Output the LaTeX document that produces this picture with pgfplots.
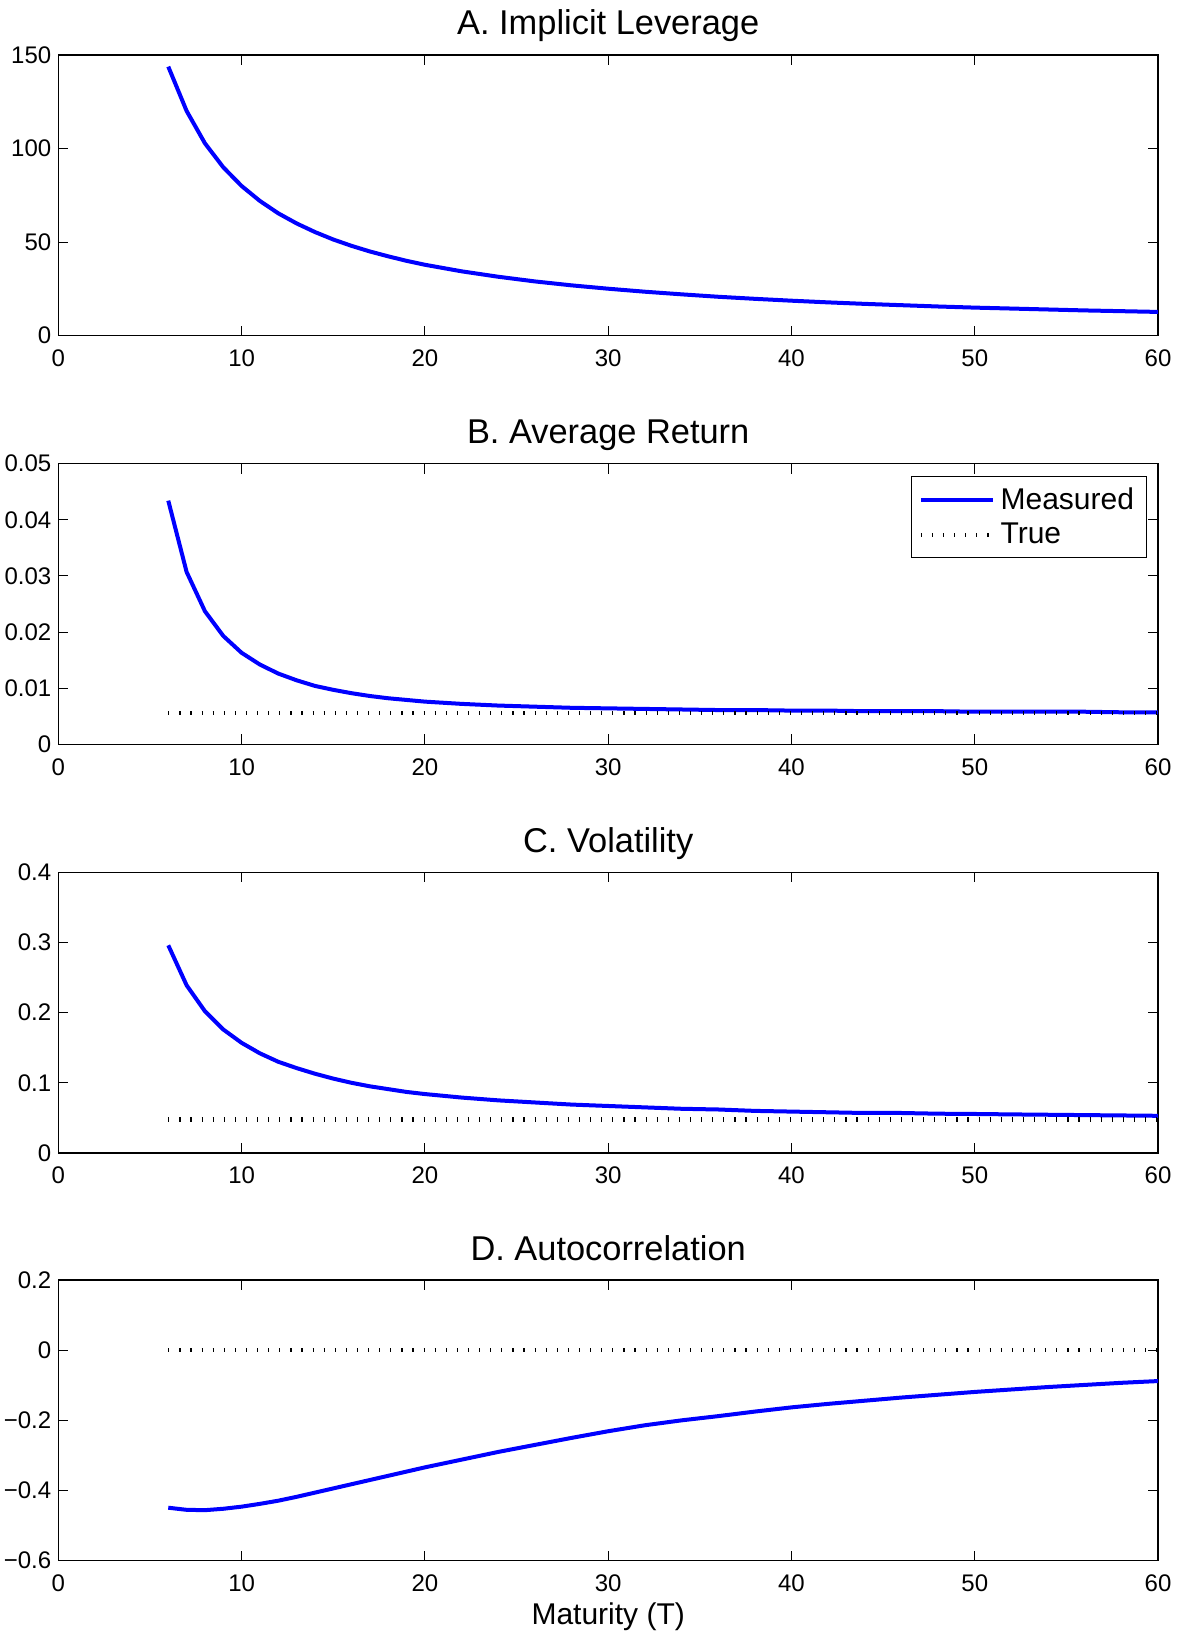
\documentclass[border=0pt]{standalone}
\usepackage{fontspec}
\setmainfont{Liberation Sans}
\usepackage{pgfplots}
\pgfplotsset{compat=1.18}

\pgfplotsset{
  panel/.style={
    scale only axis, width=549.9pt, height=140.35pt,
    anchor=south west,
    xmin=0, xmax=60, xtick={0,10,...,60}, xticklabels={0,10,20,30,40,50,60},
    scaled y ticks=false,
    tick align=inside, xtick pos=both, ytick pos=both,
    major tick length=5pt,
    axis line style={line width=0.75pt},
    tick style={black, line width=0.5pt},
    tick label style={font=\fontsize{12}{14}\selectfont},
    xticklabel style={anchor=base, yshift=-15.5pt},
    title style={font=\fontsize{17.2}{20}\selectfont, at={(axis description cs:0.5,1)}, anchor=base, yshift=4pt},
    label style={font=\fontsize{15}{18}\selectfont},
    clip=false,
  },
  meas/.style={blue, line width=2pt, line join=round},
  tru/.style={black, line width=2.2pt, dash pattern=on 0.6pt off 4.95pt},
}

\begin{document}
\begin{tikzpicture}
\useasboundingbox (0,0) rectangle (590pt,817.5pt);

% A. Implicit Leverage
\begin{axis}[panel, at={(29.15pt,649.65pt)},
  title={A. Implicit Leverage},
  ymin=0, ymax=150, ytick={0,50,100,150}, yticklabels={0,50,100,150}]
\addplot[meas] table {
  6 143.8
  7 120.1
  8 102.8
  9 90.0
  10 80.0
  11 72.0
  12 65.4
  13 60.0
  14 55.4
  15 51.4
  16 48.0
  17 45.0
  18 42.4
  19 40.0
  20 37.9
  22 34.4
  24 31.5
  26 29.0
  28 26.9
  30 25.1
  32 23.5
  34 22.1
  36 20.8
  38 19.7
  40 18.7
  42 17.8
  44 17.0
  46 16.3
  48 15.6
  50 15.0
  52 14.5
  54 14.0
  56 13.5
  58 13.1
  60 12.7
};
\end{axis}

% B. Average Return
\begin{axis}[panel, at={(29.15pt,445.35pt)},
  title={B. Average Return},
  ymin=0, ymax=0.05, ytick={0,0.01,0.02,0.03,0.04,0.05},
  yticklabels={0,0.01,0.02,0.03,0.04,0.05},
  legend style={at={(axis description cs:1,1)}, anchor=north east,
    xshift=-5.5pt, yshift=-6.35pt, draw=black, line width=0.5pt,
    font=\fontsize{15}{18}\selectfont, inner xsep=3.5pt, inner ysep=2.5pt,
    row sep=0pt, nodes={inner sep=2.8pt}, cells={anchor=west}},
  legend image code/.code={\draw[#1] (0pt,0pt) -- (36pt,0pt);}]
\addplot[meas] table {
  6 0.0434
  7 0.0307
  8 0.0237
  9 0.0193
  10 0.0163
  11 0.0142
  12 0.0126
  13 0.0114
  14 0.0104
  15 0.0097
  16 0.0091
  17 0.0086
  18 0.0082
  19 0.0079
  20 0.0076
  22 0.0072
  24 0.0069
  26 0.0067
  28 0.0065
  30 0.0064
  32 0.0063
  34 0.0062
  36 0.0061
  38 0.0061
  40 0.0060
  42 0.0060
  44 0.0059
  46 0.0059
  48 0.0059
  50 0.0058
  52 0.0058
  54 0.0058
  56 0.0058
  58 0.0057
  60 0.0057
};
\addlegendentry{Measured}
\addplot[tru] table {
  6 0.0056
  60 0.0056
};
\addlegendentry{True}
\end{axis}

% C. Volatility
\begin{axis}[panel, at={(29.15pt,241pt)},
  title={C. Volatility},
  ymin=0, ymax=0.4, ytick={0,0.1,0.2,0.3,0.4},
  yticklabels={0,0.1,0.2,0.3,0.4}]
\addplot[meas] table {
  6 0.296
  7 0.239
  8 0.202
  9 0.176
  10 0.157
  11 0.142
  12 0.130
  13 0.121
  14 0.113
  15 0.106
  16 0.100
  17 0.095
  18 0.091
  19 0.087
  20 0.084
  22 0.079
  24 0.075
  26 0.072
  28 0.069
  30 0.067
  32 0.065
  34 0.063
  36 0.062
  38 0.060
  40 0.059
  42 0.058
  44 0.057
  46 0.057
  48 0.056
  50 0.0556
  52 0.0550
  54 0.0545
  56 0.0540
  58 0.0535
  60 0.0530
};
\addplot[tru] table {
  6 0.048
  60 0.048
};
\end{axis}

% D. Autocorrelation
\begin{axis}[panel, at={(29.15pt,37.15pt)},
  title={D. Autocorrelation},
  xlabel={Maturity (T)},
  xlabel style={at={(axis description cs:0.5,0)}, anchor=base, yshift=-32pt},
  ymin=-0.6, ymax=0.2, ytick={-0.6,-0.4,-0.2,0,0.2},
  yticklabels={−0.6,−0.4,−0.2,0,0.2}]
\addplot[meas] table {
  6 -0.449
  7 -0.455
  8 -0.456
  9 -0.452
  10 -0.446
  11 -0.438
  12 -0.429
  13 -0.418
  14 -0.406
  15 -0.394
  16 -0.382
  17 -0.370
  18 -0.358
  19 -0.346
  20 -0.334
  22 -0.312
  24 -0.290
  26 -0.270
  28 -0.250
  30 -0.231
  32 -0.214
  34 -0.200
  36 -0.188
  38 -0.175
  40 -0.163
  42 -0.153
  44 -0.144
  46 -0.135
  48 -0.127
  50 -0.119
  52 -0.112
  54 -0.105
  56 -0.099
  58 -0.093
  60 -0.088
};
\addplot[tru] table {
  6 0
  60 0
};
\end{axis}
\end{tikzpicture}
\end{document}
